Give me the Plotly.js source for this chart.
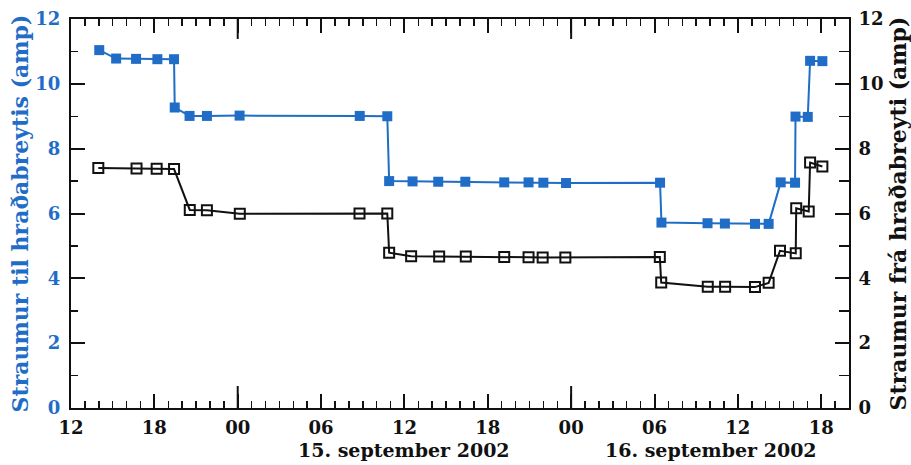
<!DOCTYPE html>
<html>
<head>
<meta charset="utf-8">
<script src="https://cdn.plot.ly/plotly-3.0.1.min.js"></script>
<style>html,body{margin:0;padding:0;background:#fff;}</style>
</head>
<body>
<div id="chart" style="width:911px;height:465px;"></div>
<script>
// Straumur til hraðabreytis (left axis, blue, filled squares)
const blueTimes = [
  "2002-09-14 14:02","2002-09-14 15:15","2002-09-14 16:41","2002-09-14 18:13","2002-09-14 19:25",
  "2002-09-14 19:28","2002-09-14 20:32","2002-09-14 21:47","2002-09-15 00:08","2002-09-15 08:47",
  "2002-09-15 10:46","2002-09-15 10:54","2002-09-15 12:35","2002-09-15 14:26","2002-09-15 16:23",
  "2002-09-15 19:11","2002-09-15 20:56","2002-09-15 22:00","2002-09-15 23:38","2002-09-16 06:24",
  "2002-09-16 06:30","2002-09-16 09:49","2002-09-16 11:04","2002-09-16 13:14","2002-09-16 14:13",
  "2002-09-16 15:05","2002-09-16 16:07","2002-09-16 16:09","2002-09-16 17:02","2002-09-16 17:12",
  "2002-09-16 18:05"
];
const blueValues = [
  11.04, 10.78, 10.77, 10.76, 10.76,
  9.27, 9.01, 9.01, 9.02, 9.01,
  9.00, 7.00, 6.99, 6.98, 6.98,
  6.96, 6.96, 6.95, 6.94, 6.95,
  5.72, 5.70, 5.69, 5.68, 5.68,
  6.96, 6.95, 8.99, 8.98, 10.71,
  10.70
];
// Straumur frá hraðabreyti (right axis, black, open squares)
const blackTimes = [
  "2002-09-14 13:58","2002-09-14 16:43","2002-09-14 18:10","2002-09-14 19:25","2002-09-14 20:33",
  "2002-09-14 21:47","2002-09-15 00:09","2002-09-15 08:46","2002-09-15 10:46","2002-09-15 10:54",
  "2002-09-15 12:29","2002-09-15 14:30","2002-09-15 16:25","2002-09-15 19:11","2002-09-15 20:56",
  "2002-09-15 21:57","2002-09-15 23:35","2002-09-16 06:23","2002-09-16 06:29","2002-09-16 09:50",
  "2002-09-16 11:05","2002-09-16 13:14","2002-09-16 14:13","2002-09-16 15:02","2002-09-16 16:10",
  "2002-09-16 16:12","2002-09-16 17:06","2002-09-16 17:12","2002-09-16 18:05"
];
const blackValues = [
  7.40, 7.39, 7.38, 7.37, 6.11,
  6.10, 5.99, 6.00, 6.00, 4.79,
  4.68, 4.67, 4.67, 4.66, 4.65,
  4.64, 4.64, 4.66, 3.87, 3.74,
  3.74, 3.73, 3.86, 4.85, 4.77,
  6.16, 6.06, 7.57, 7.45
];
const xRange = ["2002-09-14 12:00", "2002-09-16 20:00"];
const midnights = ["2002-09-15 00:00", "2002-09-16 00:00"];
const dateLabels = ["15. september 2002", "16. september 2002"];
const dateLabelPos = ["2002-09-15 12:00", "2002-09-16 10:05"];
const leftTitle = "Straumur til hraðabreytis (amp)";
const rightTitle = "Straumur frá hraðabreyti (amp)";

const BLUE = "#1f6dc6";
const FONT = "DejaVu Serif";

const traces = [
  {
    x: blueTimes, y: blueValues, type: "scatter", mode: "lines+markers",
    line: {color: BLUE, width: 2},
    marker: {symbol: "square", size: 10, color: BLUE},
    xaxis: "x", yaxis: "y", hoverinfo: "skip"
  },
  {
    x: blackTimes, y: blackValues, type: "scatter", mode: "lines+markers",
    line: {color: "#111", width: 2},
    marker: {symbol: "square-open", size: 10, color: "#111", line: {width: 2, color: "#111"}},
    xaxis: "x", yaxis: "y2", hoverinfo: "skip"
  }
];

// longer tick marks at midnight (bottom and top axes)
const shapes = [];
midnights.forEach(m => {
  shapes.push({type: "line", xref: "x", yref: "paper", ysizemode: "pixel", yanchor: 0,
    x0: m, x1: m, y0: 0, y1: 22, line: {color: "#111", width: 2}});
  shapes.push({type: "line", xref: "x", yref: "paper", ysizemode: "pixel", yanchor: 1,
    x0: m, x1: m, y0: 0, y1: -20, line: {color: "#111", width: 2}});
});

const layout = {
  width: 911, height: 465,
  margin: {l: 71, r: 62, t: 19, b: 57},
  paper_bgcolor: "#fff", plot_bgcolor: "#fff",
  showlegend: false,
  font: {family: FONT, color: "#111"},
  xaxis: {
    type: "date", range: xRange,
    tick0: "2002-09-14 00:00", dtick: 21600000, tickformat: "%H",
    ticks: "inside", ticklen: 14, tickwidth: 2, tickcolor: "#111",
    minor: {dtick: 3600000, ticks: "inside", ticklen: 7, tickwidth: 1.5, tickcolor: "#111"},
    showline: true, linewidth: 2, linecolor: "#111", mirror: "ticks",
    showgrid: false, zeroline: false,
    tickfont: {family: FONT, size: 18, color: "#111", weight: "bold"},
    ticklabelstandoff: 2
  },
  yaxis: {
    range: [0, 12], dtick: 2, tick0: 0,
    ticks: "inside", ticklen: 14, tickwidth: 2, tickcolor: "#111",
    minor: {dtick: 1, ticks: "inside", ticklen: 7, tickwidth: 1.5, tickcolor: "#111"},
    showline: true, linewidth: 2, linecolor: "#111",
    showgrid: false, zeroline: false,
    tickfont: {family: FONT, size: 18, color: BLUE, weight: "bold"},
    ticklabelstandoff: 5,
    title: {text: leftTitle, font: {family: FONT, size: 22, color: BLUE, weight: "bold"}, standoff: 1}
  },
  yaxis2: {
    range: [0, 12], dtick: 2, tick0: 0, overlaying: "y", side: "right", anchor: "x",
    ticks: "inside", ticklen: 14, tickwidth: 2, tickcolor: "#111",
    minor: {dtick: 1, ticks: "inside", ticklen: 10, tickwidth: 1.5, tickcolor: "#111"},
    showline: true, linewidth: 2, linecolor: "#111",
    showgrid: false, zeroline: false,
    tickfont: {family: FONT, size: 18, color: "#111", weight: "bold"},
    ticklabelstandoff: 4,
    title: {text: rightTitle, font: {family: FONT, size: 22, color: "#111", weight: "bold"}, standoff: 12}
  },
  shapes: shapes,
  annotations: dateLabels.map((t, i) => ({
    text: t, x: dateLabelPos[i], xref: "x", y: -0.108, yref: "paper",
    xanchor: "center", yanchor: "middle", showarrow: false,
    font: {family: FONT, size: 19, color: "#111", weight: "bold"}
  }))
};

Plotly.newPlot("chart", traces, layout, {staticPlot: true, displayModeBar: false});
</script>
</body>
</html>
